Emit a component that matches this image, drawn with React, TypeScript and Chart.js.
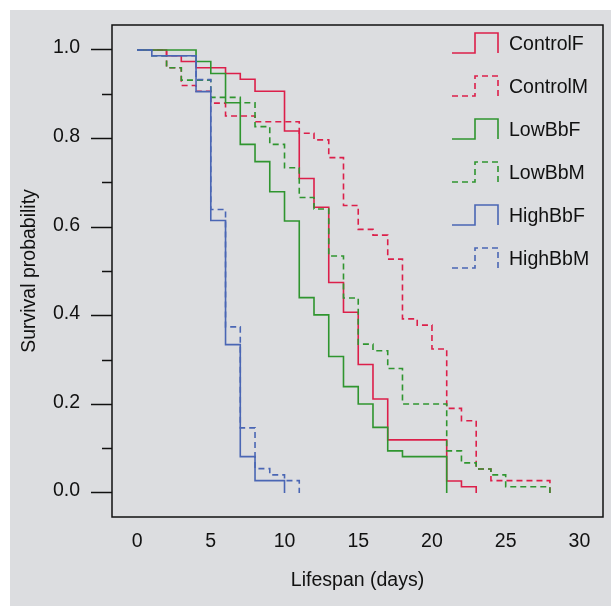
import React, { useEffect, useRef } from "react";
import { Chart, registerables } from "chart.js";

Chart.register(...registerables);

// ---------- data ----------
const SERIES_LABELS = ["ControlF", "ControlM", "LowBbF", "LowBbM", "HighBbF", "HighBbM"];

const CONTROL_F_DAYS = [0, 2, 3, 4, 6, 7, 8, 10, 11, 12, 13, 14, 15, 16, 17, 21, 22, 23];
const CONTROL_F_SURV = [1.0, 0.987, 0.974, 0.96, 0.947, 0.934, 0.907, 0.817, 0.71, 0.645, 0.475, 0.408, 0.29, 0.212, 0.12, 0.027, 0.014, 0];

const CONTROL_M_DAYS = [0, 2, 3, 4, 5, 6, 8, 11, 12, 13, 14, 15, 16, 17, 18, 19, 20, 21, 22, 23, 24, 28];
const CONTROL_M_SURV = [1.0, 0.96, 0.92, 0.907, 0.88, 0.851, 0.838, 0.812, 0.797, 0.757, 0.649, 0.595, 0.582, 0.528, 0.393, 0.379, 0.325, 0.191, 0.163, 0.054, 0.028, 0];

const LOW_F_DAYS = [0, 4, 5, 6, 7, 8, 9, 10, 11, 12, 13, 14, 15, 16, 17, 18, 21];
const LOW_F_SURV = [1.0, 0.974, 0.947, 0.881, 0.787, 0.748, 0.68, 0.614, 0.441, 0.402, 0.308, 0.24, 0.201, 0.148, 0.095, 0.082, 0];

const LOW_M_DAYS = [0, 1, 2, 3, 5, 7, 8, 9, 10, 11, 12, 13, 14, 15, 16, 17, 18, 21, 22, 23, 24, 25, 28];
const LOW_M_SURV = [1.0, 0.987, 0.96, 0.932, 0.893, 0.881, 0.827, 0.787, 0.734, 0.667, 0.641, 0.535, 0.44, 0.336, 0.321, 0.281, 0.201, 0.095, 0.068, 0.054, 0.041, 0.014, 0];

const HIGH_F_DAYS = [0, 1, 4, 5, 6, 7, 8, 10];
const HIGH_F_SURV = [1.0, 0.987, 0.906, 0.615, 0.335, 0.082, 0.028, 0];

const HIGH_M_DAYS = [0, 1, 4, 5, 6, 7, 8, 9, 10, 11];
const HIGH_M_SURV = [1.0, 0.987, 0.933, 0.64, 0.375, 0.147, 0.055, 0.041, 0.028, 0];

const X_TICKS = [0, 5, 10, 15, 20, 25, 30];
const Y_TICKS = [0, 0.1, 0.2, 0.3, 0.4, 0.5, 0.6, 0.7, 0.8, 0.9, 1.0];
const Y_LABELLED = [0, 0.2, 0.4, 0.6, 0.8, 1.0];

const X_TITLE = "Lifespan (days)";
const Y_TITLE = "Survival probability";

// ---------- styles ----------
const RED = "#dc1f4a";
const GREEN = "#2f952f";
const BLUE = "#4a66b4";
const FONT = "'Liberation Sans', Arial, sans-serif";
const FONT_SIZE = 19.5;
const TEXT = "#111111";
const DASH = [6, 4];

const SERIES = [
  { days: CONTROL_F_DAYS, surv: CONTROL_F_SURV, color: RED, dash: [] as number[] },
  { days: CONTROL_M_DAYS, surv: CONTROL_M_SURV, color: RED, dash: DASH },
  { days: LOW_F_DAYS, surv: LOW_F_SURV, color: GREEN, dash: [] as number[] },
  { days: LOW_M_DAYS, surv: LOW_M_SURV, color: GREEN, dash: DASH },
  { days: HIGH_F_DAYS, surv: HIGH_F_SURV, color: BLUE, dash: [] as number[] },
  { days: HIGH_M_DAYS, surv: HIGH_M_SURV, color: BLUE, dash: DASH },
];

const boxPlugin = {
  id: "plotBox",
  afterDraw(chart: any) {
    const { ctx, chartArea } = chart;
    ctx.save();
    ctx.strokeStyle = "#111";
    ctx.lineWidth = 1.5;
    ctx.setLineDash([]);
    ctx.strokeRect(chartArea.left, chartArea.top, chartArea.right - chartArea.left, chartArea.bottom - chartArea.top);
    ctx.restore();
  },
};

const stepLegendPlugin = {
  id: "stepLegend",
  afterDraw(chart: any) {
    const { ctx, chartArea } = chart;
    ctx.save();
    chart.data.datasets.forEach((ds: any, i: number) => {
      const cy = chartArea.top + 20 + i * 43;
      const x0 = chartArea.right - 151;
      ctx.strokeStyle = ds.borderColor;
      ctx.lineWidth = ds.borderWidth;
      ctx.setLineDash(ds.borderDash || []);
      ctx.beginPath();
      ctx.moveTo(x0, cy + 8);
      ctx.lineTo(x0 + 23, cy + 8);
      ctx.lineTo(x0 + 23, cy - 12);
      ctx.lineTo(x0 + 46, cy - 12);
      ctx.lineTo(x0 + 46, cy + 8);
      ctx.stroke();
      ctx.setLineDash([]);
      ctx.fillStyle = TEXT;
      ctx.font = `${FONT_SIZE}px ${FONT}`;
      ctx.textAlign = "left";
      ctx.textBaseline = "middle";
      ctx.fillText(ds.label, chartArea.right - 94, cy);
    });
    ctx.restore();
  },
};

export default function App() {
  const canvasRef = useRef<HTMLCanvasElement | null>(null);

  useEffect(() => {
    if (!canvasRef.current) return;
    const datasets = SERIES.map((s, i) => ({
      label: SERIES_LABELS[i],
      data: s.days.map((d, j) => ({ x: d, y: s.surv[j] })),
      borderColor: s.color,
      backgroundColor: s.color,
      borderDash: s.dash,
      borderWidth: 1.6,
      stepped: "before" as const,
      pointRadius: 0,
      fill: false,
      order: SERIES.length - i,
    }));

    const chart = new Chart(canvasRef.current, {
      type: "line",
      data: { datasets },
      options: {
        animation: false,
        responsive: true,
        maintainAspectRatio: false,
        layout: { autoPadding: false, padding: { left: 0, top: 15, right: 8, bottom: 0 } },
        plugins: { legend: { display: false }, tooltip: { enabled: false } },
        scales: {
          x: {
            type: "linear",
            min: -1.7,
            max: 31.6,
            afterBuildTicks: (scale: any) => {
              scale.ticks = X_TICKS.map((v) => ({ value: v }));
            },
            afterFit: (scale: any) => {
              scale.height = 89;
              scale.paddingLeft = 0;
              scale.paddingRight = 0;
            },
            ticks: {
              autoSkip: false,
              maxRotation: 0,
              padding: 13,
              color: TEXT,
              font: { family: FONT, size: FONT_SIZE },
              callback: (v: any) => String(v),
            },
            grid: { display: false, drawTicks: false },
            border: { display: false },
            title: {
              display: true,
              text: X_TITLE,
              color: TEXT,
              font: { family: FONT, size: FONT_SIZE },
              padding: { top: 0, bottom: 14 },
            },
          },
          y: {
            type: "linear",
            min: -0.0542,
            max: 1.0564,
            afterBuildTicks: (scale: any) => {
              scale.ticks = Y_TICKS.map((v) => ({ value: v }));
            },
            afterFit: (scale: any) => {
              scale.width = 102;
              scale.paddingTop = 0;
              scale.paddingBottom = 0;
            },
            ticks: {
              autoSkip: false,
              padding: 11,
              labelOffset: -2,
              color: TEXT,
              font: { family: FONT, size: FONT_SIZE },
              callback: (v: any) => {
                const n = Number(v);
                return Y_LABELLED.some((l) => Math.abs(l - n) < 1e-6) ? n.toFixed(1) : "";
              },
            },
            grid: {
              display: true,
              drawOnChartArea: false,
              drawTicks: true,
              tickLength: 21,
              tickWidth: 1.5,
              tickColor: "#111",
              tickBorderDash: (ctx: any) => {
                const v = ctx.tick ? ctx.tick.value : 0;
                const major = Y_LABELLED.some((l) => Math.abs(l - v) < 1e-6);
                return major ? [] : [0, 11, 10, 100];
              },
            },
            border: { display: false },
            title: {
              display: true,
              text: Y_TITLE,
              color: TEXT,
              font: { family: FONT, size: FONT_SIZE },
              padding: { top: 8, bottom: 0 },
            },
          },
        },
      },
      plugins: [boxPlugin, stepLegendPlugin],
    });
    return () => chart.destroy();
  }, []);

  return (
    <div style={{ position: "absolute", left: 0, top: 0, width: 611, height: 608, background: "#ffffff" }}>
      <div style={{ position: "absolute", left: 10, top: 10, width: 601, height: 596, background: "#dcdde0" }}>
        <canvas ref={canvasRef} />
      </div>
    </div>
  );
}
